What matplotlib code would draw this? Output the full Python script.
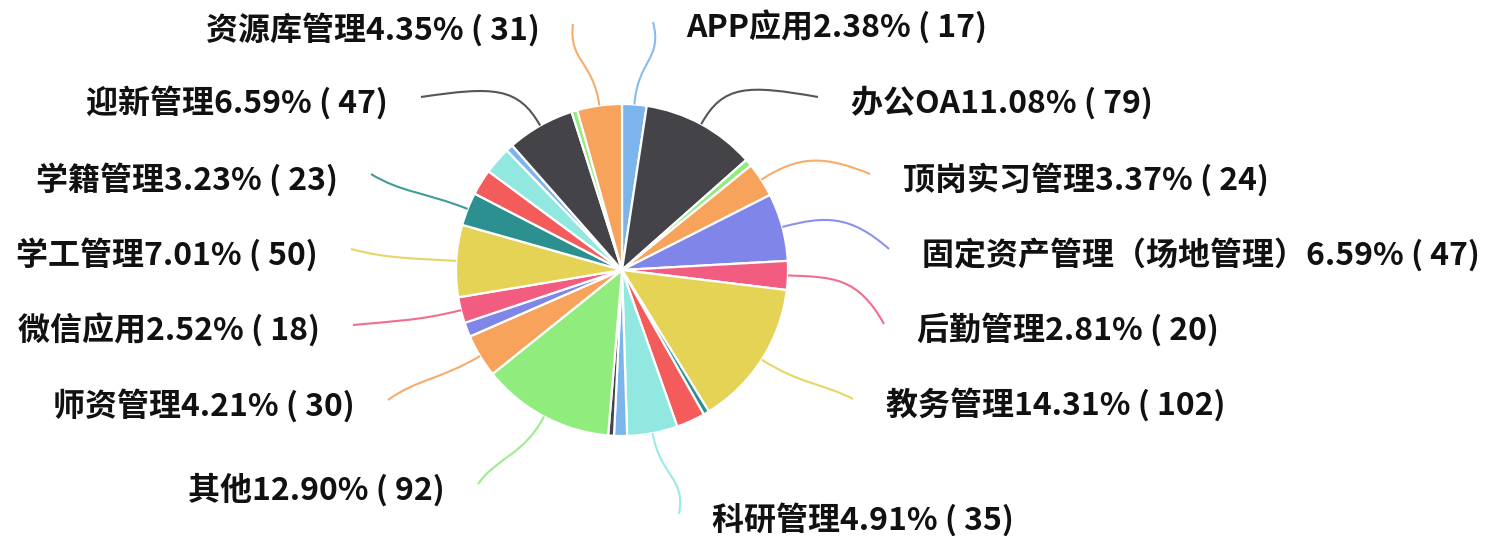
import numpy as np
import matplotlib
matplotlib.use("Agg")
import matplotlib.pyplot as plt
from matplotlib.path import Path
from matplotlib.patches import PathPatch

plt.rcParams['font.family'] = ['Noto Sans CJK SC', 'DejaVu Sans']

# ---------------- data (clockwise from 12 o'clock) ----------------
names = ["APP应用", "办公OA", "", "顶岗实习管理", "固定资产管理（场地管理）", "后勤管理",
         "教务管理", "", "", "科研管理", "", "", "其他", "师资管理", "", "微信应用",
         "学工管理", "学籍管理", "", "", "", "迎新管理", "", "资源库管理"]
counts = [17, 79, 5, 24, 47, 20,
          102, 4, 20, 35, 9, 4, 92, 30, 10, 18,
          50, 23, 18, 19, 5, 47, 4, 31]
palette = ["#7cb5ec", "#434348", "#90ed7d", "#f7a35c", "#8085e9",
           "#f15c80", "#e4d354", "#2b908f", "#f45b5b", "#91e8e1"]

# label layout (pixel positions of label text: x anchor, y centre, alignment)
label_layout = {
    "APP应用": (686, 28, "left"),
    "办公OA": (851, 103, "left"),
    "顶岗实习管理": (903, 180, "left"),
    "固定资产管理（场地管理）": (922, 255, "left"),
    "后勤管理": (917, 330, "left"),
    "教务管理": (886, 405, "left"),
    "科研管理": (712, 520, "left"),
    "资源库管理": (540, 30, "right"),
    "迎新管理": (388, 103, "right"),
    "学籍管理": (338, 180, "right"),
    "学工管理": (318, 255, "right"),
    "微信应用": (320, 331, "right"),
    "师资管理": (355, 406, "right"),
    "其他": (445, 490, "right"),
}

W, H = 1488, 536
fig = plt.figure(figsize=(W / 100, H / 100), dpi=100)
ax = fig.add_axes([0, 0, 1, 1])

def Y(y_img):
    return H - y_img

cx, cy, R = 622, 270, 166
colors = [palette[i % len(palette)] for i in range(len(counts))]
wedges, _ = ax.pie(counts, colors=colors, startangle=90, counterclock=False,
                   radius=R, center=(cx, Y(cy)), frame=True,
                   wedgeprops=dict(edgecolor="white", linewidth=1.6))
ax.set_xlim(0, W)
ax.set_ylim(0, H)
ax.set_aspect("auto")
ax.axis("off")

total = sum(counts)
gap = 33
for w, name, cnt, col in zip(wedges, names, counts, colors):
    if not name:
        continue
    tx, ty, side = label_layout[name]
    mid = np.deg2rad((w.theta1 + w.theta2) / 2)
    c0 = np.array(w.center)
    p0 = c0 + R * np.array([np.cos(mid), np.sin(mid)])
    p1 = c0 + (R + 45) * np.array([np.cos(mid), np.sin(mid)])
    d = 1 if side == "left" else -1
    p2 = p1 + np.array([d * 25, 0])
    p3 = np.array([tx - d * gap, Y(ty - 6)])
    path = Path([p0, p1, p2, p3], [Path.MOVETO, Path.CURVE4, Path.CURVE4, Path.CURVE4])
    ax.add_patch(PathPatch(path, facecolor="none", edgecolor=col, lw=1.5, alpha=0.9))
    pct = cnt / total * 100
    label = f"{name}{pct:.2f}% ( {cnt})"
    ax.text(tx, Y(ty), label, ha=side, va="center", fontsize=23,
            fontweight="bold", color="#111111")

fig.savefig("out.png", dpi=100)
